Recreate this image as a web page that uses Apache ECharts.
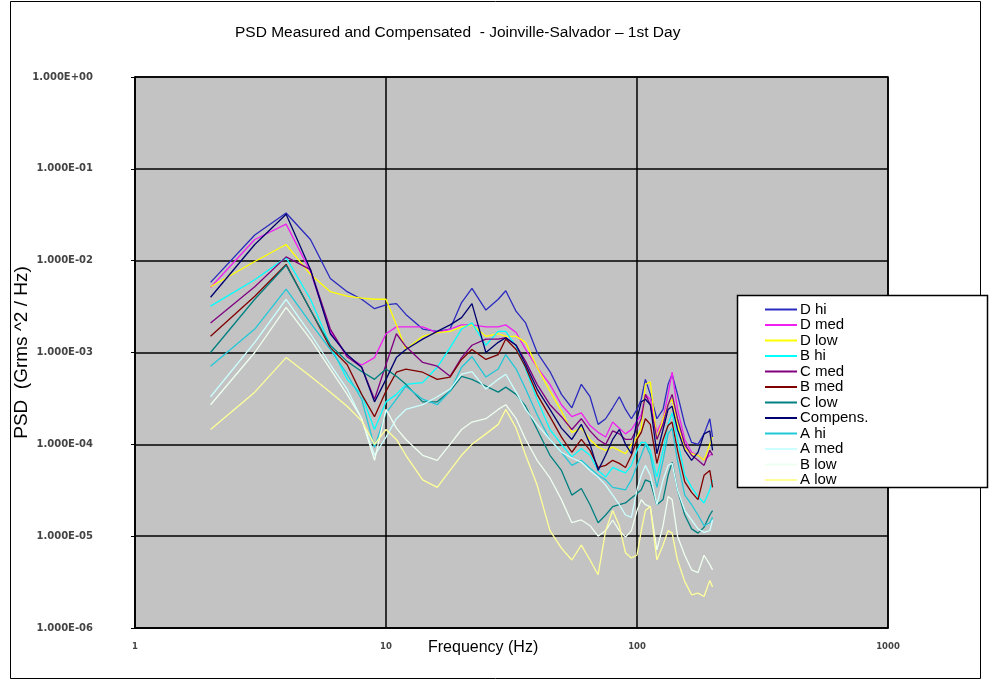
<!DOCTYPE html>
<html>
<head>
<meta charset="utf-8">
<script src="https://cdn.jsdelivr.net/npm/echarts@6/dist/echarts.min.js"></script>
<style>
html,body{margin:0;padding:0;background:#fff;}
#chart{width:989px;height:681px;}
</style>
</head>
<body>
<div id="chart"></div>
<script>
// Frequency (Hz)
const freqs = [2,3,4,5,6,7,8,9,10,11,12,14,16,18,20,22,25,28,30,33,36,40,45,50,55,60,65,70,75,80,85,90,95,100,104,108,113,120,127,133,138,145,155,165,175,185,195,200];

// PSD series (Grms^2/Hz)
const dHi = [5.8e-3,1.9e-2,3.3e-2,1.7e-2,6.4e-3,4.6e-3,3.8e-3,3.0e-3,3.3e-3,3.4e-3,2.6e-3,1.8e-3,1.7e-3,1.8e-3,3.5e-3,5.0e-3,2.9e-3,3.8e-3,4.7e-3,2.8e-3,2.1e-3,1.0e-3,6.2e-4,3.5e-4,2.5e-4,4.5e-4,3.3e-4,1.65e-4,1.9e-4,2.5e-4,3.3e-4,2.4e-4,1.9e-4,2.4e-4,3.1e-4,5.1e-4,3.5e-4,1.9e-4,2.4e-4,4.5e-4,5.8e-4,3.5e-4,1.65e-4,1.05e-4,1.0e-4,1.3e-4,1.9e-4,1.2e-4];
const dMed = [5.1e-3,1.7e-2,2.5e-2,7.6e-3,1.7e-3,9.0e-4,7.3e-4,8.8e-4,1.6e-3,1.9e-3,1.9e-3,1.9e-3,1.65e-3,1.8e-3,2.0e-3,2.0e-3,1.9e-3,1.9e-3,2.0e-3,1.65e-3,1.08e-3,6.9e-4,4.5e-4,2.7e-4,2.0e-4,2.2e-4,1.6e-4,1.35e-4,1.2e-4,1.75e-4,1.5e-4,1.3e-4,1.45e-4,1.8e-4,2.1e-4,3.5e-4,3.1e-4,1.35e-4,1.9e-4,3.5e-4,6.1e-4,2.4e-4,1.13e-4,8.2e-5,7.6e-5,6.7e-5,7.6e-5,7.9e-5];
const dLow = [5.2e-3,9.8e-3,1.5e-2,7.1e-3,4.6e-3,4.1e-3,3.9e-3,3.8e-3,3.8e-3,2.0e-3,1.08e-3,1.5e-3,1.65e-3,1.7e-3,1.9e-3,2.0e-3,1.5e-3,1.6e-3,1.5e-3,1.5e-3,1.29e-3,6.9e-4,3.8e-4,2.3e-4,1.35e-4,1.5e-4,1.13e-4,9.3e-5,8.6e-5,9.3e-5,8.6e-5,7.9e-5,1.0e-4,1.2e-4,1.5e-4,4.5e-4,4.8e-4,1.13e-4,1.9e-4,2.7e-4,3.1e-4,1.65e-4,9.0e-5,7.9e-5,7.6e-5,6.7e-5,1.0e-4,1.2e-4];
const bHi = [3.2e-3,6.2e-3,1.08e-2,3.8e-3,1.2e-3,5.1e-4,3.5e-4,1.45e-4,2.9e-4,3.5e-4,4.5e-4,4.7e-4,6.9e-4,1.13e-3,1.8e-3,2.1e-3,1.2e-3,1.7e-3,1.7e-3,1.16e-3,6.6e-4,3.1e-4,1.45e-4,1.0e-4,7.3e-5,9.0e-5,7.6e-5,5.2e-5,4.4e-5,5.6e-5,5.2e-5,4.9e-5,5.9e-5,8.6e-5,1.05e-4,1.05e-4,8.6e-5,4.4e-5,8.6e-5,1.65e-4,2.2e-4,1.13e-4,4.6e-5,3.4e-5,2.7e-5,2.3e-5,3.2e-5,4.1e-5];
const cMed = [2.1e-3,5.2e-3,1.1e-2,8.0e-3,1.8e-3,9.0e-4,6.9e-4,3.1e-4,7.4e-4,1.6e-3,1.16e-3,7.8e-4,7.1e-4,5.5e-4,8.8e-4,1.2e-3,1.4e-3,1.4e-3,1.45e-3,1.2e-3,8.0e-4,4.5e-4,2.7e-4,2.0e-4,1.45e-4,1.9e-4,1.4e-4,1.13e-4,1.0e-4,1.4e-4,1.3e-4,1.13e-4,1.13e-4,1.5e-4,1.9e-4,3.5e-4,2.7e-4,1.13e-4,1.65e-4,2.7e-4,3.5e-4,1.9e-4,1.0e-4,7.6e-5,6.7e-5,5.9e-5,8.6e-5,7.6e-5];
const bMed = [1.5e-3,4.1e-3,9.1e-3,2.9e-3,1.13e-3,7.4e-4,3.5e-4,2.0e-4,3.8e-4,6.1e-4,6.6e-4,6.1e-4,5.1e-4,5.4e-4,8.4e-4,1.08e-3,8.4e-4,9.5e-4,1.4e-3,1.08e-3,6.9e-4,3.5e-4,2.0e-4,1.2e-4,8.2e-5,1.13e-4,8.6e-5,5.6e-5,5.9e-5,6.7e-5,6.2e-5,5.6e-5,7.6e-5,1.13e-4,1.35e-4,1.9e-4,1.65e-4,6.2e-5,1.13e-4,1.6e-4,1.75e-4,8.6e-5,3.9e-5,3.0e-5,2.5e-5,4.6e-5,5.2e-5,3.4e-5];
const cLow = [1.0e-3,3.8e-3,8.9e-3,2.9e-3,1.2e-3,8.0e-4,6.2e-4,5.1e-4,6.6e-4,5.5e-4,4.5e-4,2.9e-4,2.9e-4,3.8e-4,5.5e-4,5.1e-4,4.3e-4,3.7e-4,4.2e-4,3.5e-4,2.6e-4,1.45e-4,7.6e-5,5.2e-5,2.8e-5,3.3e-5,2.2e-5,1.4e-5,1.7e-5,2.1e-5,2.2e-5,2.3e-5,2.6e-5,2.9e-5,3.2e-5,4.1e-5,3.9e-5,2.2e-5,2.5e-5,4.6e-5,6.4e-5,3.2e-5,1.7e-5,1.2e-5,1.08e-5,1.25e-5,1.7e-5,1.9e-5];
const compens = [4.0e-3,1.5e-2,3.2e-2,8.0e-3,1.6e-3,9.5e-4,6.9e-4,2.9e-4,5.1e-4,8.8e-4,1.08e-3,1.4e-3,1.7e-3,2.0e-3,2.4e-3,3.4e-3,1.0e-3,1.29e-3,1.45e-3,1.2e-3,7.4e-4,4.0e-4,2.4e-4,1.5e-4,1.13e-4,1.65e-4,1.0e-4,5.2e-5,7.6e-5,1.13e-4,1.45e-4,1.0e-4,7.9e-5,1.9e-4,2.9e-4,3.1e-4,2.7e-4,7.9e-5,1.45e-4,2.4e-4,2.6e-4,1.45e-4,8.6e-5,6.7e-5,8.2e-5,1.3e-4,1.4e-4,8.6e-5];
const aHi = [7.1e-4,1.8e-3,4.9e-3,2.1e-3,1.08e-3,5.8e-4,3.1e-4,9.3e-5,2.2e-4,3.1e-4,4.3e-4,3.1e-4,2.7e-4,3.8e-4,6.9e-4,9.0e-4,5.4e-4,6.6e-4,9.5e-4,6.6e-4,4.0e-4,2.1e-4,1.13e-4,8.2e-5,5.9e-5,6.7e-5,5.5e-5,4.6e-5,4.1e-5,3.4e-5,3.3e-5,3.2e-5,4.1e-5,5.9e-5,7.6e-5,1.0e-4,7.6e-5,3.4e-5,6.7e-5,1.3e-4,1.5e-4,6.7e-5,2.8e-5,2.2e-5,1.7e-5,1.3e-5,1.4e-5,1.6e-5];
const aMed = [3.3e-4,1.29e-3,3.8e-3,1.6e-3,7.4e-4,4.0e-4,1.9e-4,7.6e-5,1.2e-4,1.9e-4,2.4e-4,2.7e-4,3.3e-4,4.0e-4,5.8e-4,6.2e-4,4.0e-4,5.1e-4,5.8e-4,3.7e-4,2.4e-4,1.65e-4,1.13e-4,8.2e-5,7.1e-5,6.4e-5,5.2e-5,4.4e-5,3.6e-5,2.8e-5,2.2e-5,1.7e-5,1.6e-5,3.2e-5,4.6e-5,5.9e-5,4.6e-5,2.2e-5,4.1e-5,5.9e-5,6.2e-5,3.2e-5,1.9e-5,1.5e-5,1.2e-5,1.1e-5,1.15e-5,1.5e-5];
const bLow = [2.7e-4,1.0e-3,3.1e-3,1.4e-3,6.6e-4,3.5e-4,1.9e-4,6.7e-5,2.4e-4,1.5e-4,1.13e-4,7.6e-5,6.7e-5,1.0e-4,1.45e-4,1.75e-4,1.9e-4,2.4e-4,2.7e-4,1.9e-4,1.13e-4,6.7e-5,4.3e-5,2.5e-5,1.4e-5,1.5e-5,1.3e-5,1.0e-5,1.15e-5,1.5e-5,1.15e-5,9.8e-6,1.15e-5,1.9e-5,2.5e-5,2.2e-5,2.1e-5,7.1e-6,1.3e-5,2.7e-5,2.5e-5,1.0e-5,6.2e-6,4.3e-6,4.0e-6,6.2e-6,4.9e-6,4.3e-6];
const aLow = [1.45e-4,3.7e-4,8.8e-4,5.5e-4,3.7e-4,2.6e-4,1.8e-4,1.0e-4,1.45e-4,1.13e-4,7.6e-5,4.1e-5,3.4e-5,5.2e-5,7.6e-5,1.0e-4,1.3e-4,1.65e-4,2.4e-4,1.5e-4,7.6e-5,3.6e-5,1.15e-5,7.4e-6,5.5e-6,8.0e-6,5.5e-6,3.8e-6,1.15e-5,1.9e-5,1.3e-5,6.6e-6,5.8e-6,6.2e-6,1.15e-5,1.9e-5,2.1e-5,5.5e-6,8.0e-6,1.15e-5,1.08e-5,5.5e-6,3.2e-6,2.3e-6,2.4e-6,2.2e-6,3.3e-6,2.8e-6];

const seriesNames = ['D hi','D med','D low','B hi','C med','B med','C low','Compens.','A hi','A med','B low','A low'];
const seriesData = [dHi,dMed,dLow,bHi,cMed,bMed,cLow,compens,aHi,aMed,bLow,aLow];
const seriesColors = ['#2a2ac0','#f020f0','#ffff00','#00ffff','#800080','#800000','#008080','#000070','#20c8d8','#ccffff','#eefff0','#ffff99'];

const xTicks = [1,10,100,1000];
const yTicks = [1,1e-1,1e-2,1e-3,1e-4,1e-5,1e-6];

function yLabel(v){
  const e = Math.round(Math.log10(v));
  return '1.000E' + (e < 0 ? '-' : '+') + String(Math.abs(e)).padStart(2,'0');
}

const chart = echarts.init(document.getElementById('chart'), null, {renderer:'canvas'});
const series = seriesNames.map((name,i)=>({
  name: name,
  type: 'line',
  data: freqs.map((f,j)=>[f, seriesData[i][j]]),
  symbol: 'none',
  showSymbol: false,
  lineStyle: {width: 1.3, color: seriesColors[i]},
  itemStyle: {color: seriesColors[i]},
  emphasis: {disabled: true},
  z: 3
}));

chart.setOption({
  animation: false,
  backgroundColor: '#ffffff',
  title: {
    text: 'PSD Measured and Compensated  - Joinville-Salvador \u2013 1st Day',
    left: 230, top: 20,
    textStyle: {fontFamily: 'Liberation Sans', fontSize: 15.5, fontWeight: 'normal', color: '#000'}
  },
  graphic: [
    {type:'rect', shape:{x:10.5,y:1.5,width:970,height:677}, style:{fill:'none', stroke:'#000', lineWidth:1}, z:-10, silent:true},
    {type:'rect', shape:{x:737.5,y:295.5,width:250,height:192}, style:{fill:'#fff', stroke:'#000', lineWidth:1.5}, z:50, silent:true},
    {type:'text', left: 428, top: 640, style:{text:'Frequency (Hz)', font:'16px "Liberation Sans"', fill:'#000'}, z:50}
  ],
  legend: {
    orient: 'vertical',
    left: 760, top: 297,
    itemWidth: 32, itemHeight: 15, itemGap: 0.5,
    icon: 'path://M0,0 L32,0 L32,2 L0,2 Z',
    z: 60,
    textStyle: {fontFamily: 'Liberation Sans', fontSize: 15, color: '#000', lineHeight: 15, padding:[0,0,0,-2]},
    data: seriesNames.map((n,i)=>({name:n, itemStyle:{color:seriesColors[i]}}))
  },
  grid: {
    left: 135, right: 101, top: 77, bottom: 53,
    containLabel: false, outerBoundsMode: 'none',
    show: true, backgroundColor: '#c3c3c3', borderColor: '#000', borderWidth: 1.5
  },
  xAxis: {
    type: 'log', logBase: 10, min: 1, max: 1000,
    axisLine: {show: true, lineStyle: {color: '#000', width: 1.5}},
    axisTick: {show: false},
    splitLine: {show: true, lineStyle: {color: '#000', width: 1.5}},
    minorTick: {show: false}, minorSplitLine: {show: false},
    axisLabel: {margin: 14, fontFamily: 'DejaVu Sans', fontSize: 8.5, fontWeight: 'bold', color: '#444',
      formatter: v => String(xTicks.find(t => Math.abs(Math.log10(t) - Math.log10(v)) < 1e-6) ?? '')}
  },
  yAxis: {
    type: 'log', logBase: 10, min: 1e-6, max: 1,
    name: 'PSD  (Grms ^2 / Hz)', nameLocation: 'middle', nameGap: 104, nameMoveOverlap: false,
    nameTextStyle: {fontFamily: 'Liberation Sans', fontSize: 19, color: '#000'},
    axisLine: {show: true, lineStyle: {color: '#000', width: 1.5}},
    axisTick: {show: true, length: 4, lineStyle: {color: '#000'}},
    splitLine: {show: true, lineStyle: {color: '#000', width: 1.5}},
    axisLabel: {margin: 42, fontFamily: 'DejaVu Sans', fontSize: 10, fontWeight: 'bold', color: '#444',
      formatter: v => yLabel(v)}
  },
  series: series
});
</script>
</body>
</html>
